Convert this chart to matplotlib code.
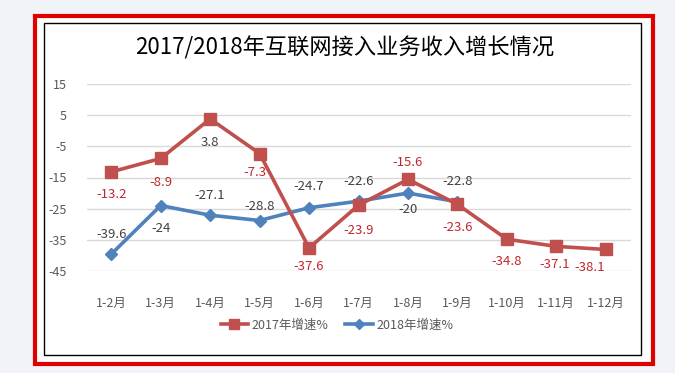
import matplotlib.pyplot as plt
from matplotlib.patches import Rectangle
from matplotlib.lines import Line2D

plt.rcParams['font.family'] = ['Noto Sans CJK SC', 'DejaVu Sans']
plt.rcParams['axes.unicode_minus'] = False

# data
months = ['1-2月', '1-3月', '1-4月', '1-5月', '1-6月', '1-7月',
          '1-8月', '1-9月', '1-10月', '1-11月', '1-12月']
growth_2017 = [-13.2, -8.9, 3.8, -7.3, -37.6, -23.9, -15.6, -23.6, -34.8, -37.1, -38.1]
growth_2018 = [-39.6, -24, -27.1, -28.8, -24.7, -22.6, -20, -22.8]
yticks = [15, 5, -5, -15, -25, -35, -45]

# label offsets in pixels (dx, dy)
off_2017 = [(0, -23), (0, -24), (0, -24), (-5, -19), (0, -19), (0, -25),
            (0, 17), (0, -23), (0, -22), (-2, -18), (-16, -18)]
off_2018 = [(0, 20), (0, -23), (0, 20), (0, 14), (0, 21), (0, 20), (0, -16), (0, 20)]

red = '#C0504D'
blue = '#4F81BD'
red_txt = '#C0272D'
gray_txt = '#404040'

W, H = 675, 373
fig = plt.figure(figsize=(W / 100, H / 100), dpi=100)
fig.patch.set_facecolor('#F0F4F8')

# borders (behind the axes)
fig.patches.append(Rectangle((35 / W, 1 - 364 / H), 618 / W, 348 / H, transform=fig.transFigure,
                             facecolor='white', edgecolor='#E00000', lw=3.0, zorder=-2))
fig.patches.append(Rectangle((44 / W, 1 - 355 / H), 597 / W, 332 / H, transform=fig.transFigure,
                             facecolor='white', edgecolor='black', lw=1.0, zorder=-1))

left, right = 86.5, 630.5
top, bottom = 84, 271
ax = fig.add_axes([left / W, 1 - bottom / H, (right - left) / W, (bottom - top) / H])
ax.set_facecolor('none')
ax.set_xlim(-0.5, len(months) - 0.5)
ax.set_ylim(-45, 15)
ax.set_yticks(yticks)
ax.set_xticks(range(len(months)))
ax.set_xticklabels(months)
for s in ax.spines.values():
    s.set_visible(False)
ax.tick_params(length=0, colors='#595959', labelsize=9)
ax.tick_params(axis='x', pad=19)
ax.tick_params(axis='y', pad=14)
ax.grid(axis='y', color='#D9D9D9', lw=1)
ax.set_axisbelow(True)

x17 = list(range(len(growth_2017)))
x18 = list(range(len(growth_2018)))
ax.plot(x18, growth_2018, color=blue, lw=2.6, marker='D', ms=6, clip_on=False, zorder=3)
ax.plot(x17, growth_2017, color=red, lw=2.6, marker='s', ms=8, clip_on=False, zorder=4)

for x, v, (dx, dy) in zip(x17, growth_2017, off_2017):
    c = gray_txt if v > 0 else red_txt
    ax.annotate(f'{v:g}', (x, v), xytext=(dx, dy), textcoords='offset pixels',
                ha='center', va='center', fontsize=9.5, color=c)
for x, v, (dx, dy) in zip(x18, growth_2018, off_2018):
    ax.annotate(f'{v:g}', (x, v), xytext=(dx, dy), textcoords='offset pixels',
                ha='center', va='center', fontsize=9.5, color=gray_txt)

fig.text(345 / W, 1 - 48 / H, '2017/2018年互联网接入业务收入增长情况', ha='center', va='center',
         fontsize=16, fontweight='medium', color='black')

handles = [Line2D([], [], color=red, lw=2.6, marker='s', ms=7),
           Line2D([], [], color=blue, lw=2.6, marker='D', ms=5)]
fig.legend(handles, ['2017年增速%', '2018年增速%'], loc='center', ncol=2,
           bbox_to_anchor=(337 / W, 1 - 325 / H), frameon=False, fontsize=9,
           labelcolor='#595959', handlelength=2.2, handletextpad=0.3, columnspacing=1.3)

fig.savefig('out.png', dpi=100, facecolor=fig.get_facecolor())
